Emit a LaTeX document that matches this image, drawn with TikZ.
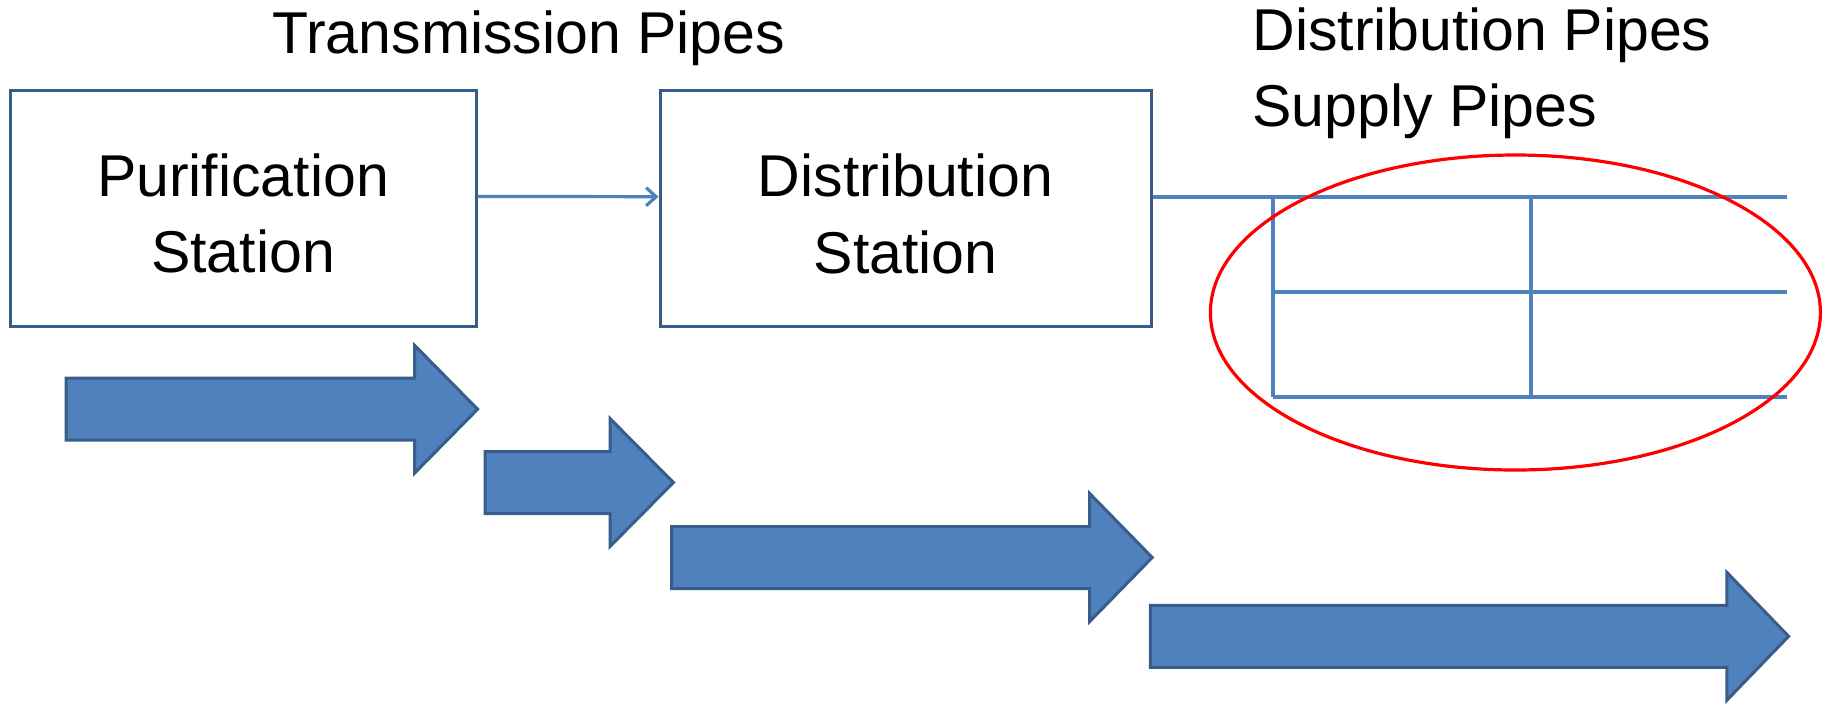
\documentclass[tikz,border=0pt]{standalone}
\usepackage{fontspec}
\setmainfont{Liberation Sans}
\usetikzlibrary{arrows.meta,calc}
\definecolor{accent}{HTML}{4F81BD}
\definecolor{accentdark}{HTML}{385D8A}
\definecolor{ringred}{HTML}{FF0000}
\tikzset{
  stationbox/.style={draw=accentdark, line width=1.5pt, fill=white, inner sep=0pt},
  stationtext/.style={align=center, inner sep=0pt, font=\fontsize{29.5pt}{38.35pt}\selectfont},
  pipelabel/.style={anchor=base west, inner sep=0pt, font=\fontsize{29.5pt}{38.35pt}\selectfont},
  pipe/.style={draw=accent, line width=2pt},
  feed/.style={draw=accent, line width=1.6pt, -{Straight Barb[length=5pt,width=9pt,line width=1.6pt]}},
  blockarrow/.style={draw=accentdark, line width=1.5pt, fill=accent, line join=miter},
  ring/.style={draw=ringred, line width=1.6pt}
}
\begin{document}
\begin{tikzpicture}[x=0.5pt,y=-0.5pt]
\useasboundingbox (0,0) rectangle (1824,703);

% titles
\node[pipelabel] (transT) at (272,53.3) {Transmission Pipes};
\node[pipelabel] (distP) at (1252,50) {Distribution Pipes};
\node[pipelabel] (supP) at (1252,126.7) {Supply Pipes};

% stations
\node[stationbox, minimum width=233pt, minimum height=117.7pt] (purif) at (243,208.4) {};
\node[stationtext, yshift=-2.5pt] (purifT) at (purif.center) {Purification\\Station};
\node[stationbox, minimum width=245.5pt, minimum height=118pt] (dist) at (905.5,208.7) {};
\node[stationtext, yshift=-2.5pt] (distT) at (dist.center) {Distribution\\Station};

% transmission connector
\draw[feed] ([yshift=6pt]purif.east) -- ([yshift=6pt]dist.west);

% distribution / supply grid
\coordinate (mainEnd) at (1787,196.7);
\coordinate (gA) at (1273,196.7);
\coordinate (gB) at (1530.5,196.7);
\coordinate (gAm) at (1273,292.3);
\coordinate (gAb) at (1273,397.3);
\coordinate (gBb) at (1530.5,397.3);
\coordinate (gEm) at (1787,292.3);
\coordinate (gEb) at (1787,397.3);
\draw[pipe] ([yshift=6pt]dist.east) -- (mainEnd);
\draw[pipe] (gA) -- (gAb);
\draw[pipe] (gB) -- (gBb);
\draw[pipe] (gAm) -- (gEm);
\draw[pipe] (gAb) -- (gEb);

% highlight ring
\draw[ring] (1515.4,312.5) ellipse [x radius=305, y radius=157.5];

% block arrows
\foreach \l/\h/\t/\c in {66/414.5/477.6/409.2, 485/610/673.4/482.5, 671.6/1089.7/1152.2/557.5, 1150.4/1726.8/1788.6/636.3}
  \draw[blockarrow] (\l,\c-31) -- (\h,\c-31) -- (\h,\c-64) -- (\t,\c) -- (\h,\c+64) -- (\h,\c+31) -- (\l,\c+31) -- cycle;
\end{tikzpicture}
\end{document}
